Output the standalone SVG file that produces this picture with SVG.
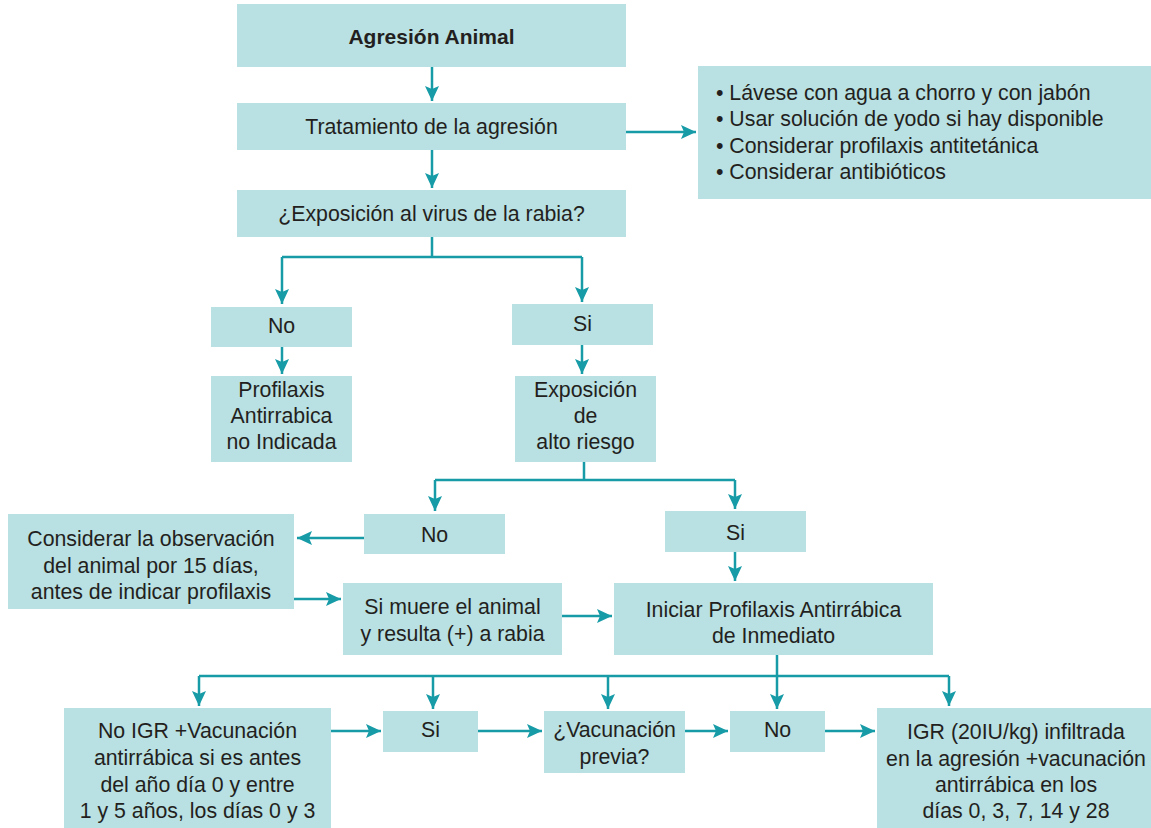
<svg xmlns="http://www.w3.org/2000/svg" width="1151" height="828" viewBox="0 0 1151 828">
<style>
.box{fill:#b9e0e2;}
.t{font-family:"Liberation Sans",Arial,sans-serif;font-size:21.3px;fill:#231f20;text-anchor:middle;}
.b{font-weight:bold;font-size:21px;}
.l{text-anchor:start;}
.c{fill:none;stroke:#179ca7;stroke-width:2.5;}
.a{marker-end:url(#ah);}
</style>
<defs>
<marker id="ah" markerUnits="userSpaceOnUse" markerWidth="16" markerHeight="16" viewBox="0 0 16 16" refX="15" refY="8" orient="auto">
<path d="M0,1 L15,8 L0,15 L3,8 Z" fill="#179ca7"/>
</marker>
</defs>
<rect width="1151" height="828" fill="#ffffff"/>
<g id="connectors">
<path class="c a" d="M432,67 V101"/>
<path class="c a" d="M432,150 V188"/>
<path class="c a" d="M626,132 H696"/>
<path class="c" d="M432,237 V257 M282,257 H582"/>
<path class="c a" d="M282,257 V304"/>
<path class="c a" d="M582,257 V302"/>
<path class="c a" d="M282,347 V374"/>
<path class="c a" d="M582,345 V374"/>
<path class="c" d="M584,462 V480 M435,480 H735"/>
<path class="c a" d="M435,480 V511"/>
<path class="c a" d="M735,480 V509"/>
<path class="c a" d="M364,538 H297"/>
<path class="c a" d="M294,599 H341"/>
<path class="c a" d="M735,552 V581"/>
<path class="c a" d="M562,616 H612"/>
<path class="c" d="M777,655 V676 M199,676 H949"/>
<path class="c a" d="M199,676 V706"/>
<path class="c a" d="M433,676 V709"/>
<path class="c a" d="M608,676 V709"/>
<path class="c a" d="M777,676 V709"/>
<path class="c a" d="M949,676 V706"/>
<path class="c a" d="M331,731 H381"/>
<path class="c a" d="M478,731 H542"/>
<path class="c a" d="M685,731 H728"/>
<path class="c a" d="M825,731 H875"/>
</g>
<g id="n1"><rect class="box" x="237" y="4" width="389" height="63"/><text class="t b" x="431.5" y="43.5">Agresión Animal</text></g>
<g id="n2"><rect class="box" x="237" y="103" width="389" height="47"/><text class="t" x="431.5" y="134">Tratamiento de la agresión</text></g>
<g id="n3"><rect class="box" x="237" y="190" width="389" height="47"/><text class="t" x="431.5" y="220.5">¿Exposición al virus de la rabia?</text></g>
<g id="n4"><rect class="box" x="698" y="66" width="453" height="133"/>
<text class="t l" x="716" y="100">• Lávese con agua a chorro y con jabón</text>
<text class="t l" x="716" y="126">• Usar solución de yodo si hay disponible</text>
<text class="t l" x="716" y="152.5">• Considerar profilaxis antitetánica</text>
<text class="t l" x="716" y="178.5">• Considerar antibióticos</text></g>
<g id="n5"><rect class="box" x="211" y="307" width="141" height="40"/><text class="t" x="281.5" y="333">No</text></g>
<g id="n6"><rect class="box" x="512" y="304" width="141" height="41"/><text class="t" x="582.5" y="331">Si</text></g>
<g id="n7"><rect class="box" x="211" y="376" width="141" height="86"/>
<text class="t" x="281.5" y="397">Profilaxis</text><text class="t" x="281.5" y="423">Antirrabica</text><text class="t" x="281.5" y="449">no Indicada</text></g>
<g id="n8"><rect class="box" x="515" y="376" width="141" height="86"/>
<text class="t" x="585.5" y="397">Exposición</text><text class="t" x="585.5" y="423">de</text><text class="t" x="585.5" y="449">alto riesgo</text></g>
<g id="n9"><rect class="box" x="364" y="514" width="141" height="40"/><text class="t" x="434.5" y="542">No</text></g>
<g id="n10"><rect class="box" x="665" y="511" width="141" height="41"/><text class="t" x="735.5" y="540">Si</text></g>
<g id="n11"><rect class="box" x="8" y="514" width="286" height="95"/>
<text class="t" x="151" y="546">Considerar la observación</text><text class="t" x="151" y="572.5">del animal por 15 días,</text><text class="t" x="151" y="599">antes de indicar profilaxis</text></g>
<g id="n12"><rect class="box" x="343" y="583" width="219" height="72"/>
<text class="t" x="452.5" y="614">Si muere el animal</text><text class="t" x="452.5" y="641">y resulta (+) a rabia</text></g>
<g id="n13"><rect class="box" x="614" y="583" width="319" height="72"/>
<text class="t" x="773.5" y="617">Iniciar Profilaxis Antirrábica</text><text class="t" x="773.5" y="643">de Inmediato</text></g>
<g id="n14"><rect class="box" x="64" y="708" width="267" height="120"/>
<text class="t" x="197.5" y="738">No IGR +Vacunación</text><text class="t" x="197.5" y="765">antirrábica si es antes</text><text class="t" x="197.5" y="791.5">del año día 0 y entre</text><text class="t" x="197.5" y="817.5">1 y 5 años, los días 0 y 3</text></g>
<g id="n15"><rect class="box" x="383" y="711" width="95" height="41"/><text class="t" x="430.5" y="737">Si</text></g>
<g id="n16"><rect class="box" x="544" y="711" width="141" height="62"/>
<text class="t" x="614.5" y="737">¿Vacunación</text><text class="t" x="614.5" y="764">previa?</text></g>
<g id="n17"><rect class="box" x="730" y="711" width="95" height="41"/><text class="t" x="777.5" y="737">No</text></g>
<g id="n18"><rect class="box" x="877" y="708" width="274" height="120"/>
<text class="t" x="1016" y="739">IGR (20IU/kg) infiltrada</text><text class="t" x="1016" y="766">en la agresión +vacunación</text><text class="t" x="1016" y="792">antirrábica en los</text><text class="t" x="1016" y="818">días 0, 3, 7, 14 y 28</text></g>
</svg>
